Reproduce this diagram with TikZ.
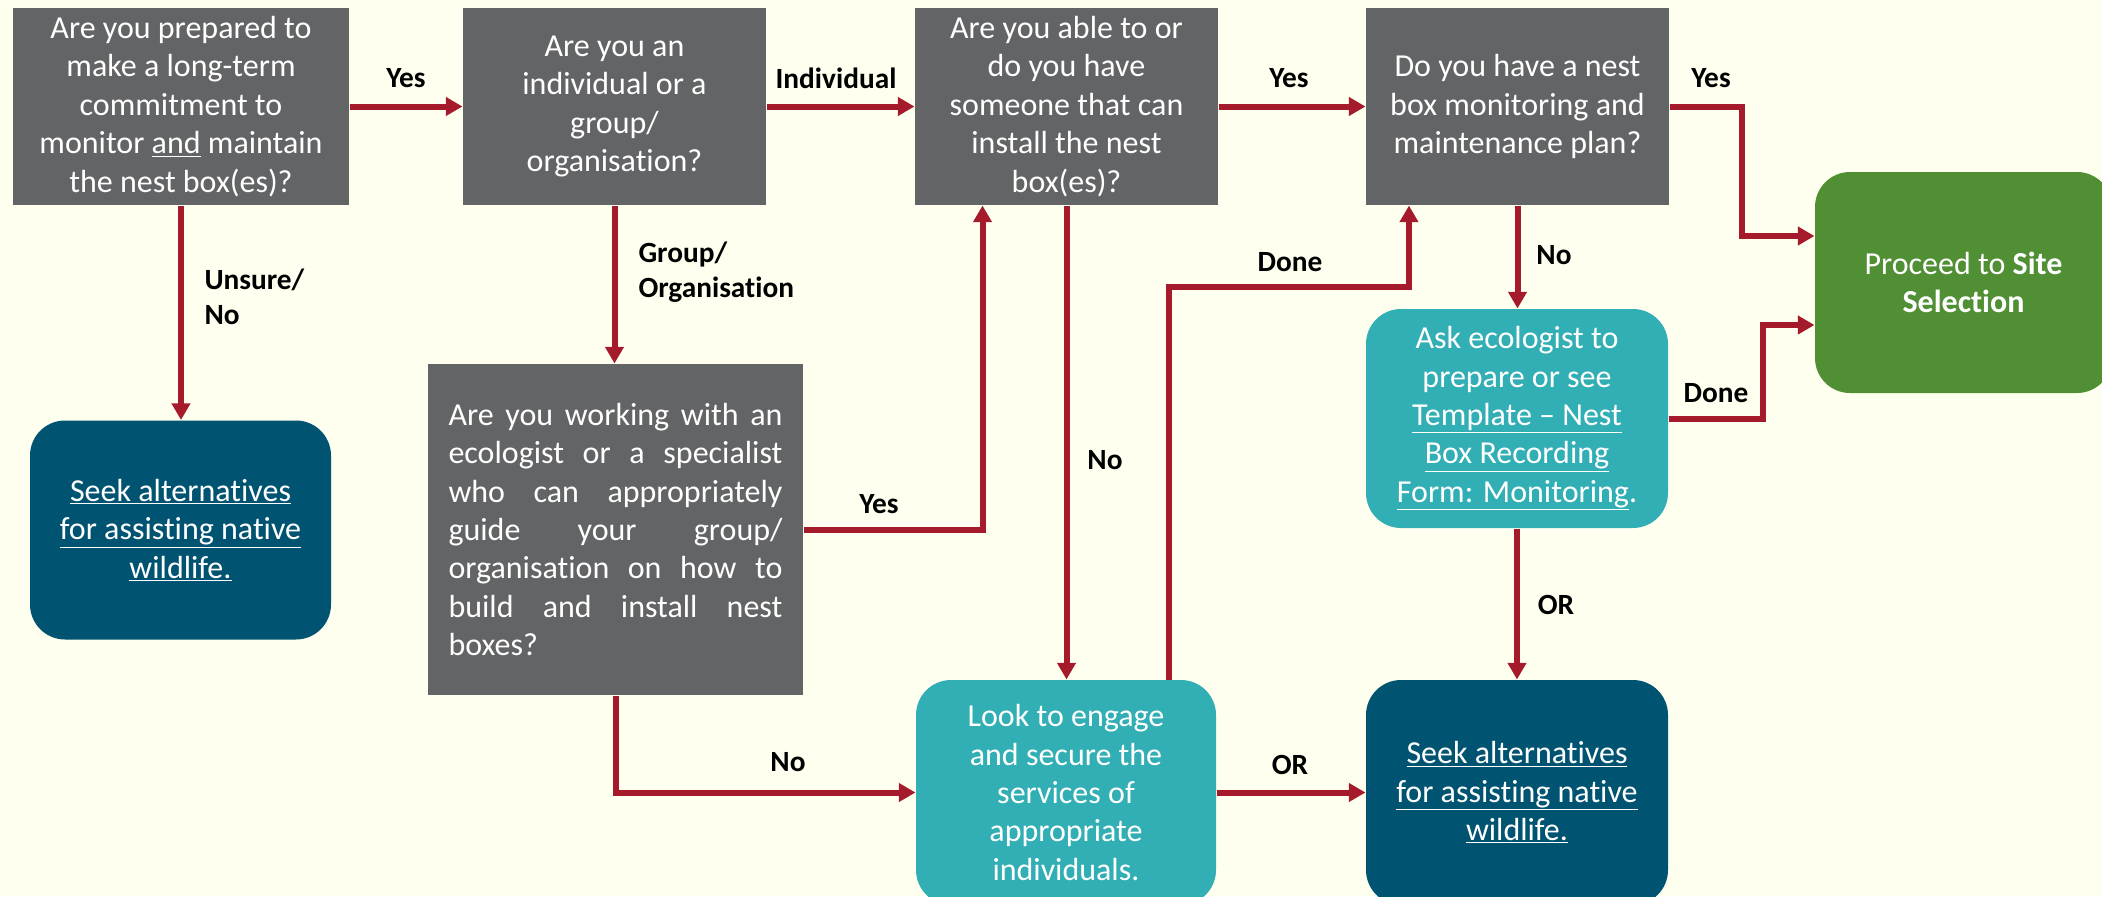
\documentclass[tikz,border=0pt]{standalone}
\usepackage{fontspec}
\setmainfont{Carlito}[Ligatures=NoCommon]
\usetikzlibrary{arrows.meta}

\definecolor{bgcream}{RGB}{255,255,240}
\definecolor{boxgrey}{RGB}{99,100,102}
\definecolor{flowred}{RGB}{166,27,43}
\definecolor{boxteal}{RGB}{50,174,181}
\definecolor{boxnavy}{RGB}{0,84,114}
\definecolor{boxgreen}{RGB}{80,143,51}

\newcommand{\boxfont}{\fontsize{24}{28.8}\selectfont}
\newcommand{\lblfont}{\fontsize{22}{26.3}\selectfont\bfseries}

\tikzset{every picture/.style={line width=0.75pt}}
\tikzset{
	qbox/.style={fill=boxgrey, text=white, minimum width=227.25pt, minimum height=147.75pt, inner sep=0pt, align=center, font=\boxfont},
	rbox/.style={rounded corners=26.25pt, text=white, minimum width=226.5pt, minimum height=164.25pt, inner sep=0pt, align=center, font=\boxfont},
	flow/.style={draw=flowred, line width=4.5pt, -{Triangle[length=12.5pt,width=13.5pt]}},
	lbl/.style={font=\lblfont, inner sep=0.75pt}}

\begin{document}
\begin{tikzpicture}[x=0.75pt,y=0.75pt,yscale=-1,xscale=1]
	\useasboundingbox (0,0) rectangle (2102,896);
	\fill [bgcream] (0,0) rectangle (2102,896);
	
	%Shape: Rectangle
	\node [qbox, minimum width=252pt] (commit) at (181,106.5) {Are you prepared to\\make a long-term\\commitment to\\monitor \underline{and} maintain\\the nest box(es)?};
	%Shape: Rectangle
	\node [qbox] (kind) at (614.5,106.5) {Are you an\\individual or a\\group/\\organisation?};
	%Shape: Rectangle
	\node [qbox] (install) at (1066.5,106.5) {Are you able to or\\do you have\\someone that can\\install the nest\\box(es)?};
	%Shape: Rectangle
	\node [qbox] (plan) at (1517.5,106.5) {Do you have a nest\\box monitoring and\\maintenance plan?};
	%Shape: Rectangle
	\node [qbox, minimum width=281.25pt, minimum height=248.25pt, text width=250.5pt, align=justify] (ecol) at (615.5,529.5) {\tolerance=10000\hyphenpenalty=10000 Are you working with an\linebreak ecologist or a specialist\linebreak who can appropriately\linebreak guide your group/\linebreak organisation on how to\linebreak build and install nest\linebreak boxes?};
	%Rounded Rect
	\node [rbox, fill=boxgreen, minimum width=222.75pt, minimum height=165.75pt] (site) at (1963.5,282.5) {Proceed to \textbf{Site}\\\textbf{Selection}};
	%Rounded Rect
	\node [rbox, fill=boxnavy, minimum width=225.75pt] (seekA) at (180.5,530) {\underline{Seek alternatives}\\\underline{for assisting native}\\\underline{wildlife.}};
	%Rounded Rect
	\node [rbox, fill=boxteal] (askeco) at (1517,418.5) {Ask ecologist to\\prepare or see\\\underline{Template – Nest}\\\underline{Box Recording}\\\underline{Form: Monitoring}.};
	%Rounded Rect
	\node [rbox, fill=boxteal, minimum width=225pt, minimum height=168.75pt] (engage) at (1066,792.5) {Look to engage\\and secure the\\services of\\appropriate\\individuals.};
	%Rounded Rect
	\node [rbox, fill=boxnavy, minimum height=168.75pt] (seekB) at (1517,792.5) {\underline{Seek alternatives}\\\underline{for assisting native}\\\underline{wildlife.}};
	
	%Straight Lines
	\draw [flow] (commit) -- (kind);
	\draw [flow] (commit.south) -- (commit.south |- seekA.north);
	\draw [flow] (kind) -- (install);
	\draw [flow] (kind.south) -- (kind.south |- ecol.north);
	\draw [flow] (install) -- (plan);
	\draw [flow] (ecol.east) -| ([xshift=51pt]install.south west);
	\draw [flow] (install.south) -- (install.south |- engage.north);
	\draw [flow] (ecol.south) |- (engage.west);
	\draw [flow] (engage) -- (seekB);
	\coordinate (donemid) at (1290,287);
	\draw [flow] ([xshift=77.25pt]engage.north) |- (donemid) -| ([xshift=-81.4pt]plan.south);
	\draw [flow] (plan.south) -- (plan.south |- askeco.north);
	\draw [flow] (askeco) -- (seekB);
	\coordinate (yesbend) at (1742,236);
	\draw [flow] (plan.east) -| (yesbend) -- (yesbend -| site.west);
	\coordinate (donebend) at (1763,325);
	\draw [flow] (askeco.east) -| (donebend) -- (donebend -| site.west);
	
	% Text Node
	\node [lbl] (yesA) at (406,78) {Yes};
	% Text Node
	\node [lbl, anchor=west, align=left] (unsure) at (203,297) {Unsure/\\No};
	% Text Node
	\node [lbl] (indiv) at (836,78) {Individual};
	% Text Node
	\node [lbl, anchor=west, align=left] (grouplbl) at (637,272) {Group/\\Organisation};
	% Text Node
	\node [lbl] (yesB) at (1289,78) {Yes};
	% Text Node
	\node [lbl] (yesC) at (1711,78) {Yes};
	% Text Node
	\node [lbl] (noA) at (1554,255) {No};
	% Text Node
	\node [lbl] (doneA) at (1716,393) {Done};
	% Text Node
	\node [lbl] (orA) at (1556,605) {OR};
	% Text Node
	\node [lbl] (doneB) at (1290,262) {Done};
	% Text Node
	\node [lbl] (noB) at (1105,460) {No};
	% Text Node
	\node [lbl] (yesD) at (879,504) {Yes};
	% Text Node
	\node [lbl] (noC) at (788,762) {No};
	% Text Node
	\node [lbl] (orB) at (1290,765) {OR};
	
\end{tikzpicture}
\end{document}
